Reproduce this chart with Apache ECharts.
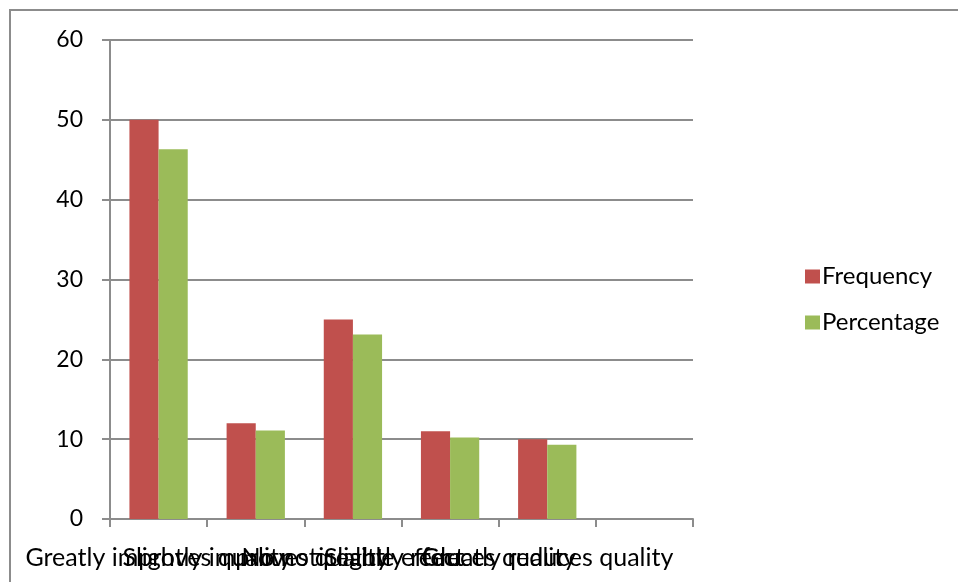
<!DOCTYPE html>
<html>
<head>
<meta charset="utf-8">
<script src="https://cdn.jsdelivr.net/npm/echarts@6/dist/echarts.min.js"></script>
<style>
  html, body { margin: 0; padding: 0; background: #ffffff; }
  #chart { width: 958px; height: 582px; }
</style>
</head>
<body>
<div id="chart"></div>
<script>
// Responses on how the change affects quality (last slot left empty)
const categories = [
  'Greatly improves quality',
  'Slightly improves quality',
  'No noticeable effect',
  'Slightly reduces quality',
  'Greatly reduces quality',
  ''
];
const frequency = [50, 12, 25, 11, 10];
const percentage = [46.3, 11.1, 23.1, 10.2, 9.3];
const yTicks = { min: 0, max: 60, interval: 10 };

const FONT = 'Lato, "Open Sans", sans-serif';
const GREY = '#8c8c8c';

const chart = echarts.init(document.getElementById('chart'), null, { renderer: 'canvas' });

chart.setOption({
  backgroundColor: '#ffffff',
  animation: false,
  graphic: [{
    type: 'rect',
    shape: { x: 10, y: 10, width: 1000, height: 1000 },
    style: { fill: 'none', stroke: GREY, lineWidth: 2 },
    silent: true
  }],
  grid: {
    left: 110, right: 265, top: 40, bottom: 63,
    outerBoundsMode: 'none'
  },
  legend: {
    orient: 'vertical',
    left: 800,
    top: 259,
    icon: 'rect',
    itemWidth: 15,
    itemHeight: 14,
    itemGap: 21,
    textStyle: { fontFamily: FONT, fontSize: 24, color: '#000', lineHeight: 25, padding: [0, 0, 0, -3] },
    data: ['Frequency', 'Percentage']
  },
  xAxis: {
    type: 'category',
    data: categories,
    boundaryGap: true,
    axisLine: { show: true, lineStyle: { color: GREY, width: 2 } },
    axisTick: { show: true, length: 8, interval: 0, lineStyle: { color: GREY, width: 2 } },
    axisLabel: {
      interval: 0,
      hideOverlap: false,
      margin: 26,
      fontFamily: FONT,
      fontSize: 25,
      lineHeight: 26,
      color: '#000'
    },
    splitLine: { show: false }
  },
  yAxis: {
    type: 'value',
    min: yTicks.min,
    max: yTicks.max,
    interval: yTicks.interval,
    axisLine: { show: true, lineStyle: { color: GREY, width: 2 } },
    axisTick: { show: true, length: 8, lineStyle: { color: GREY, width: 2 } },
    axisLabel: { margin: 27, fontFamily: FONT, fontSize: 23, color: '#000' },
    splitLine: { show: true, lineStyle: { color: GREY, width: 2 } }
  },
  series: [
    {
      name: 'Frequency',
      type: 'bar',
      data: frequency,
      barGap: '0%',
      barCategoryGap: '40%',
      itemStyle: { color: '#C0504D' }
    },
    {
      name: 'Percentage',
      type: 'bar',
      data: percentage,
      barGap: '0%',
      barCategoryGap: '40%',
      itemStyle: { color: '#9BBB59' }
    }
  ]
});
</script>
</body>
</html>
